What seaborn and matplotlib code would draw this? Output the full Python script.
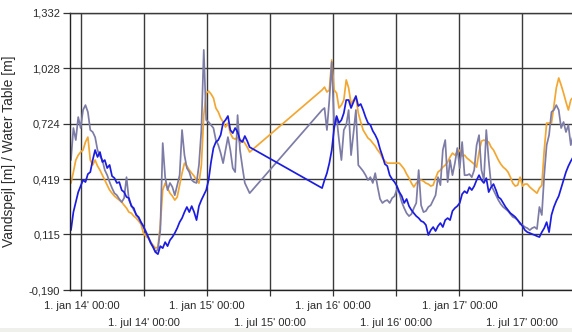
import numpy as np
import pandas as pd
import matplotlib
matplotlib.use("Agg")
import matplotlib.pyplot as plt
import matplotlib.dates as mdates
from matplotlib.patches import Rectangle
import seaborn as sns

# ---------------- data (weekly readings, two measuring periods) ----------------
start_a = "2013-12-02"   # first period, weekly
start_b = "2015-11-30"   # second period, weekly

blue_a = [0.139, 0.238, 0.293, 0.348, 0.381, 0.414, 0.403, 0.447, 0.458, 0.524,
          0.579, 0.541, 0.568, 0.513, 0.524, 0.480, 0.497, 0.436, 0.425, 0.398,
          0.403, 0.359, 0.348, 0.321, 0.315, 0.271, 0.260, 0.222, 0.211, 0.183,
          0.161, 0.128, 0.101, 0.068, 0.046, 0.018, 0.007, 0.051, 0.040, 0.073,
          0.051, 0.084, 0.101, 0.123, 0.150, 0.183, 0.205, 0.238, 0.266, 0.238,
          0.271, 0.238, 0.194, 0.271, 0.304, 0.331, 0.359, 0.414, 0.513, 0.590,
          0.623, 0.634, 0.662, 0.728, 0.744, 0.766, 0.689, 0.672, 0.700, 0.678,
          0.634, 0.623, 0.656, 0.629, 0.595]
blue_b = [0.370, 0.414, 0.452, 0.507, 0.579, 0.700, 0.766, 0.728, 0.744, 0.782,
          0.854, 0.854, 0.810, 0.843, 0.876, 0.821, 0.832, 0.799, 0.760, 0.728,
          0.717, 0.684, 0.662, 0.634, 0.585, 0.546, 0.502, 0.491, 0.441, 0.419,
          0.403, 0.381, 0.348, 0.326, 0.288, 0.310, 0.271, 0.249, 0.232, 0.216,
          0.205, 0.189, 0.183, 0.167, 0.112, 0.139, 0.156, 0.134, 0.161, 0.178,
          0.156, 0.194, 0.205, 0.194, 0.244, 0.260, 0.271, 0.288, 0.337, 0.353,
          0.342, 0.375, 0.359, 0.381, 0.414, 0.441, 0.414, 0.398, 0.425, 0.348,
          0.375, 0.392, 0.359, 0.321, 0.310, 0.288, 0.266, 0.249, 0.232, 0.222,
          0.211, 0.194, 0.178, 0.161, 0.139, 0.128, 0.123, 0.117, 0.112, 0.106,
          0.101, 0.128, 0.150, 0.183, 0.128, 0.222, 0.266, 0.299, 0.326, 0.370,
          0.414, 0.458, 0.491, 0.518, 0.541]

gray_a = [0.524, 0.700, 0.634, 0.760, 0.700, 0.799, 0.826, 0.788, 0.689, 0.678,
          0.650, 0.579, 0.546, 0.524, 0.469, 0.441, 0.403, 0.370, 0.342, 0.331,
          0.310, 0.293, 0.315, 0.430, 0.304, 0.276, 0.249, 0.227, 0.205, 0.178,
          0.156, 0.134, 0.101, 0.073, 0.046, 0.018, 0.034, 0.139, 0.617, 0.430,
          0.359, 0.398, 0.376, 0.331, 0.386, 0.441, 0.689, 0.551, 0.480, 0.458,
          0.414, 0.403, 0.398, 0.497, 0.689, 1.129, 0.744, 0.733, 0.716, 0.700,
          0.634, 0.607, 0.562, 0.507, 0.579, 0.650, 0.579, 0.480, 0.458, 0.771,
          0.579, 0.485, 0.398, 0.370, 0.342]
gray_b = [0.799, 0.810, 0.689, 0.854, 1.063, 0.716, 0.760, 0.634, 0.524, 0.689,
          0.716, 0.799, 0.551, 0.672, 0.799, 0.496, 0.480, 0.463, 0.441, 0.414,
          0.430, 0.398, 0.452, 0.376, 0.310, 0.288, 0.299, 0.304, 0.288, 0.315,
          0.326, 0.364, 0.342, 0.293, 0.260, 0.232, 0.216, 0.227, 0.260, 0.288,
          0.469, 0.276, 0.238, 0.244, 0.266, 0.276, 0.304, 0.331, 0.430, 0.386,
          0.579, 0.634, 0.403, 0.524, 0.441, 0.507, 0.590, 0.480, 0.623, 0.441,
          0.441, 0.447, 0.430, 0.469, 0.606, 0.661, 0.469, 0.414, 0.689, 0.524,
          0.386, 0.359, 0.331, 0.304, 0.282, 0.266, 0.255, 0.244, 0.227, 0.211,
          0.205, 0.194, 0.172, 0.167, 0.156, 0.150, 0.139, 0.150, 0.156, 0.145,
          0.266, 0.222, 0.441, 0.606, 0.661, 0.788, 0.799, 0.826, 0.799, 0.700,
          0.733, 0.678, 0.716, 0.606, 0.661]

orange_a = [0.397, 0.458, 0.524, 0.551, 0.568, 0.579, 0.623, 0.650, 0.524, 0.497,
            0.524, 0.491, 0.469, 0.441, 0.414, 0.386, 0.359, 0.342, 0.326, 0.315,
            0.304, 0.293, 0.276, 0.260, 0.238, 0.232, 0.216, 0.205, 0.189, 0.172,
            0.123, 0.106, 0.095, 0.073, 0.056, 0.040, 0.046, 0.167, 0.359, 0.397,
            0.370, 0.342, 0.326, 0.304, 0.321, 0.386, 0.452, 0.507, 0.491, 0.469,
            0.452, 0.436, 0.414, 0.397, 0.496, 0.771, 0.892, 0.903, 0.887, 0.865,
            0.810, 0.788, 0.755, 0.733, 0.705, 0.727, 0.672, 0.645, 0.639, 0.650,
            0.617, 0.634, 0.617, 0.595, 0.568]
orange_b = [0.909, 0.925, 0.898, 0.909, 1.074, 0.909, 0.892, 0.810, 0.826, 0.854,
            0.964, 0.920, 0.832, 0.854, 0.870, 0.782, 0.733, 0.689, 0.667, 0.645,
            0.634, 0.617, 0.601, 0.579, 0.562, 0.535, 0.518, 0.507, 0.507, 0.507,
            0.507, 0.507, 0.507, 0.491, 0.474, 0.447, 0.425, 0.397, 0.376, 0.397,
            0.414, 0.414, 0.408, 0.397, 0.392, 0.381, 0.386, 0.425, 0.458, 0.469,
            0.485, 0.496, 0.513, 0.541, 0.562, 0.551, 0.568, 0.579, 0.546, 0.551,
            0.535, 0.524, 0.513, 0.502, 0.485, 0.568, 0.628, 0.634, 0.628, 0.623,
            0.595, 0.579, 0.551, 0.524, 0.502, 0.485, 0.474, 0.458, 0.430, 0.397,
            0.381, 0.386, 0.430, 0.381, 0.392, 0.392, 0.376, 0.364, 0.353, 0.342,
            0.370, 0.386, 0.579, 0.727, 0.727, 0.727, 0.821, 0.920, 0.975, 0.936,
            0.892, 0.843, 0.799, 0.854, 0.870]

series_names = ["orange", "gray", "blue"]
series_colors = {"orange": "#f2a732", "gray": "#7d7ca6", "blue": "#1c1ce0"}

y_ticks = [-0.190, 0.115, 0.419, 0.724, 1.028, 1.332]
y_tick_labels = ["-0,190", "0,115", "0,419", "0,724", "1,028", "1,332"]

jan_ticks = ["2014-01-01", "2015-01-01", "2016-01-01", "2017-01-01"]
jan_labels = ["1. jan 14' 00:00", "1. jan 15' 00:00", "1. jan 16' 00:00", "1. jan 17' 00:00"]
jul_ticks = ["2014-07-01", "2015-07-01", "2016-07-01", "2017-07-01"]
jul_labels = ["1. jul 14' 00:00", "1. jul 15' 00:00", "1. jul 16' 00:00", "1. jul 17' 00:00"]

x_range = ["2013-11-29 04:00", "2017-11-23 12:00"]
y_title = "Vandspejl [m] / Water Table [m]"

# ---------------- build long table ----------------
raw = {"orange": (orange_a, orange_b), "gray": (gray_a, gray_b), "blue": (blue_a, blue_b)}
frames = []
for name in series_names:
    a, b = raw[name]
    da = pd.date_range(start_a, periods=len(a), freq="7D")
    db = pd.date_range(start_b, periods=len(b), freq="7D")
    frames.append(pd.DataFrame({"date": list(da) + list(db), "value": a + b, "series": name}))
df = pd.concat(frames, ignore_index=True)

# ---------------- plot ----------------
sns.set_style("white")
plt.rcParams["font.family"] = ["Liberation Sans", "DejaVu Sans"]

W, H = 572, 332
fig = plt.figure(figsize=(W / 100, H / 100), dpi=100)
fig.patches.append(Rectangle((0, 0), 1, 4 / H, transform=fig.transFigure,
                             facecolor="#efefec", edgecolor="none", zorder=0))
ax = fig.add_axes([70 / W, (H - 290) / H, (W - 70) / W, 277 / H])

for name in series_names:
    sub = df[df["series"] == name]
    sns.lineplot(data=sub, x="date", y="value", ax=ax, color=series_colors[name],
                 linewidth=1.25, estimator=None, sort=True, legend=False)

ax.set_xlim(pd.Timestamp(x_range[0]), pd.Timestamp(x_range[1]))
ax.set_ylim(y_ticks[0], y_ticks[-1])

ax.set_yticks(y_ticks, y_tick_labels)
ax.set_xticks(pd.to_datetime(jan_ticks), jan_labels)
ax.set_xticks(pd.to_datetime(jul_ticks), jul_labels, minor=True)

grid_c = "#3a3a3a"
ax.grid(True, which="both", color=grid_c, linewidth=1.0)
ax.set_axisbelow(True)

text_c = "#2b2b2b"
ax.tick_params(axis="y", which="major", length=5, width=0.9, color="#333333",
               labelsize=8, labelcolor=text_c, pad=2, left=True)
ax.tick_params(axis="x", which="major", length=4.5, width=0.9, color="#333333",
               labelsize=8, labelcolor=text_c, pad=3.5, bottom=True)
ax.tick_params(axis="x", which="minor", length=4.5, width=0.9, color="#333333",
               labelsize=8, labelcolor=text_c, pad=16, bottom=True)

for s in ["left", "bottom"]:
    ax.spines[s].set_color("#222222")
    ax.spines[s].set_linewidth(1.0)
ax.spines["top"].set_color(grid_c)
ax.spines["top"].set_linewidth(1.0)
ax.spines["right"].set_visible(False)

ax.set_xlabel("")
ax.set_ylabel(y_title, fontsize=10, color=text_c)
ax.yaxis.set_label_coords(-0.108, 0.5)

fig.savefig("out.png", dpi=100, facecolor="white")
